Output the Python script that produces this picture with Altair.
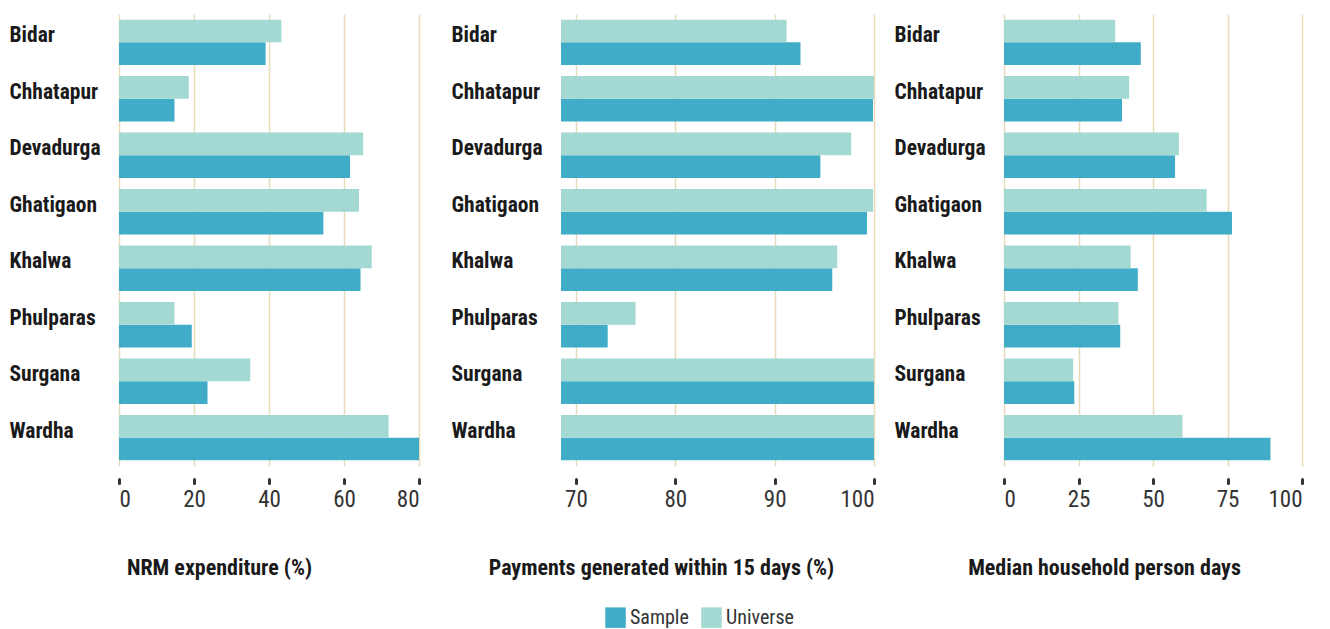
import altair as alt
import pandas as pd

districts = ["Bidar", "Chhatapur", "Devadurga", "Ghatigaon", "Khalwa", "Phulparas", "Surgana", "Wardha"]
series_names = ["Sample", "Universe"]

nrm_sample = [39.1, 14.8, 61.6, 54.5, 64.4, 19.4, 23.6, 80.0]
nrm_universe = [43.3, 18.6, 65.1, 64.0, 67.4, 14.8, 35.0, 71.9]
pay_sample = [92.6, 99.9, 94.6, 99.3, 95.8, 73.2, 100.0, 100.0]
pay_universe = [91.2, 100.0, 97.7, 99.9, 96.3, 76.0, 100.0, 100.0]
days_sample = [45.9, 39.6, 57.4, 76.5, 44.9, 39.0, 23.6, 89.4]
days_universe = [37.3, 42.0, 58.7, 68.0, 42.5, 38.4, 23.2, 59.9]

titles = ["NRM expenditure (%)", "Payments generated within 15 days (%)", "Median household person days"]
ticks1 = [0, 20, 40, 60, 80]
ticks2 = [70, 80, 90, 100]
ticks3 = [0, 25, 50, 75, 100]

S_COL = "#41acc8"
U_COL = "#a3d9d2"
GRID = "#e8dbbd"
FONT = "'Roboto Condensed', 'Liberation Sans Narrow', 'DejaVu Sans Condensed', sans-serif"


def frame(sample, universe):
    rows = []
    for d, s, u in zip(districts, sample, universe):
        rows.append({"District": d, "Series": "Sample", "Value": s})
        rows.append({"District": d, "Series": "Universe", "Value": u})
    return pd.DataFrame(rows)


def panel(df, title, domain, ticks, width, plot_w, show_legend):
    legend = None
    if show_legend:
        legend = alt.Legend(title=None, orient="none", direction="horizontal",
                            legendX=486, legendY=593, symbolType="square", symbolSize=420,
                            symbolStrokeWidth=0, labelFont=FONT, labelFontSize=20,
                            labelColor="#333333", columnPadding=12, padding=0)
    return alt.Chart(df).mark_bar().encode(
        y=alt.Y(
            "District:N", sort=districts,
            scale=alt.Scale(paddingInner=0.195, paddingOuter=0.1),
            axis=alt.Axis(title=None, domain=False, ticks=False, grid=False,
                          labelAlign="left", labelPadding=110, labelBaseline="middle",
                          labelOffset=-6, labelFont=FONT, labelFontSize=21.5,
                          labelFontWeight="bold", labelColor="#1a1a1a"),
        ),
        yOffset=alt.YOffset("Series:N", sort=["Universe", "Sample"],
                            scale=alt.Scale(domain=["Universe", "Sample"], paddingInner=0, paddingOuter=0)),
        x=alt.X(
            "Value:Q",
            scale=alt.Scale(domain=domain, nice=False, zero=False, range=[0, plot_w]),
            axis=alt.Axis(values=ticks, title=title, domain=False, grid=True, gridColor=GRID,
                          gridWidth=1.5, ticks=True, tickSize=4, tickWidth=3, tickColor="#333333",
                          tickCap="round", offset=13, labelPadding=5, labelFont=FONT,
                          labelFontSize=23, labelColor="#333333",
                          titleFont=FONT, titleFontSize=22, titleFontWeight="bold",
                          titleColor="#1a1a1a", titleX=100, titleY=88, titleAlign="center",
                          titleBaseline="middle"),
        ),
        x2=alt.datum(domain[0]),
        color=alt.Color("Series:N",
                        scale=alt.Scale(domain=series_names, range=[S_COL, U_COL]),
                        legend=legend),
    ).properties(width=width, height=452, view=alt.ViewBackground(stroke="transparent"))


p1 = panel(frame(nrm_sample, nrm_universe), titles[0], [0, 80], ticks1, 312, 300, True)
p2 = panel(frame(pay_sample, pay_universe), titles[1], [68.5, 100], ticks2, 313, 313, False)
p3 = panel(frame(days_sample, days_universe), titles[2], [0, 100], ticks3, 298, 298, False)

chart = alt.hconcat(p1, p2, p3, spacing=130, bounds="flush").resolve_scale(
    x="independent", y="independent"
).properties(
    padding={"left": 0, "top": 5, "right": 5, "bottom": 5}
).configure_view(stroke="transparent", strokeWidth=0).configure(background="white")

chart.save("out.html", embed_options={"renderer": "svg", "actions": False})
